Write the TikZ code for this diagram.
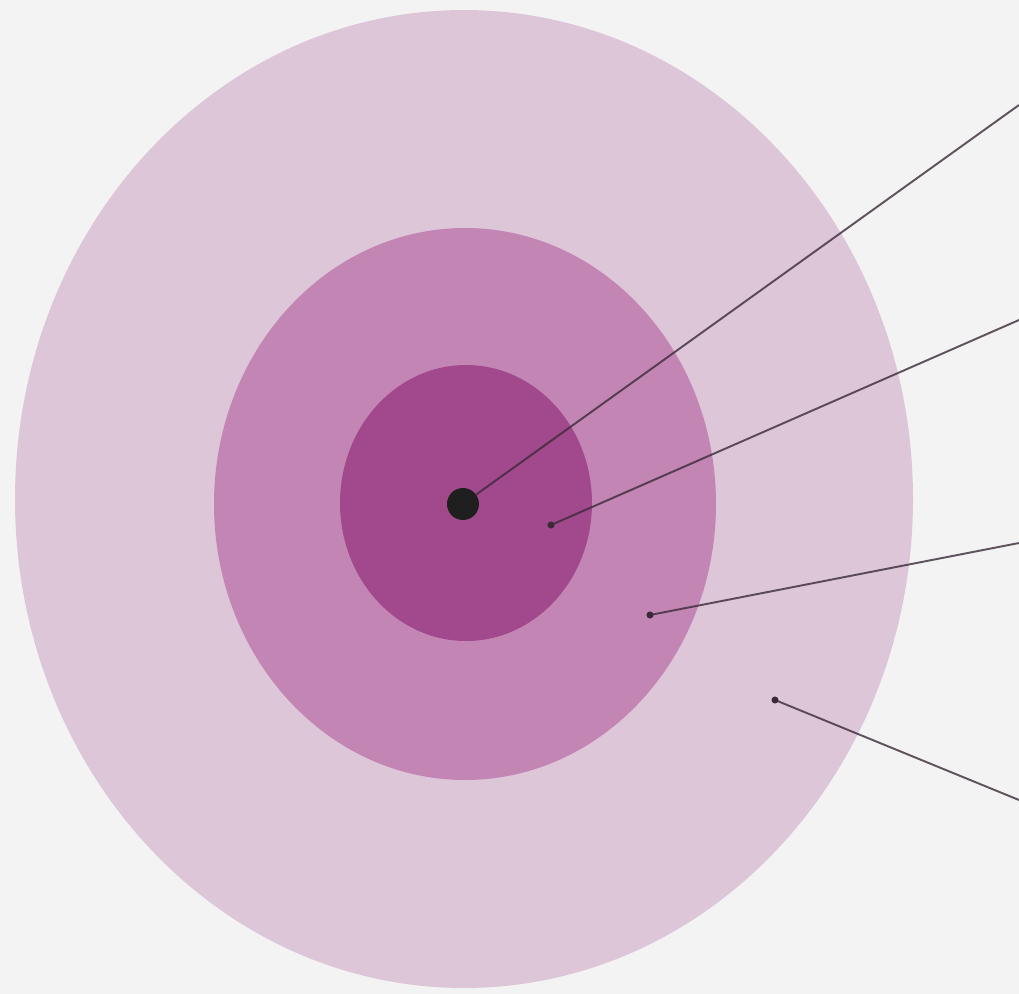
\documentclass[tikz,border=0pt]{standalone}
\usetikzlibrary{calc}
\definecolor{bg}{HTML}{F3F3F3}
\definecolor{ringA}{HTML}{DEC6D9}
\definecolor{ringB}{HTML}{C386B4}
\definecolor{ringC}{HTML}{A2488C}
\definecolor{leader}{HTML}{3A2A38}
\tikzset{
  ring/.style={draw=none},
  pin/.style={circle, fill=leader, inner sep=0pt, minimum size=4pt},
  bull/.style={circle, fill=black!88, inner sep=0pt, minimum size=0.64cm},
  leaderline/.style={draw=leader, opacity=0.8, line width=1.1pt}
}
\begin{document}
\begin{tikzpicture}[x=0.02cm, y=-0.02cm]
\fill[bg] (0,0) rectangle (1019,994);
\useasboundingbox (0,0) rectangle (1019,994);
\fill[ringA, ring] (464,499) ellipse [x radius=449, y radius=489];
\fill[ringB, ring] (465,504) ellipse [x radius=251, y radius=276];
\fill[ringC, ring] (466,503) ellipse [x radius=126, y radius=138];
\node[bull] (c) at (463,504) {};
\node[pin] (p2) at (551,525) {};
\node[pin] (p3) at (650,615) {};
\node[pin] (p4) at (775,700) {};
\coordinate (e1) at (1019,105);
\coordinate (e2) at (1019,320);
\coordinate (e3) at (1019,543);
\coordinate (e4) at (1019,800);
\draw[leaderline] (c) -- (e1);
\draw[leaderline] (p2.center) -- (e2);
\draw[leaderline] (p3.center) -- (e3);
\draw[leaderline] (p4.center) -- (e4);
\end{tikzpicture}
\end{document}
